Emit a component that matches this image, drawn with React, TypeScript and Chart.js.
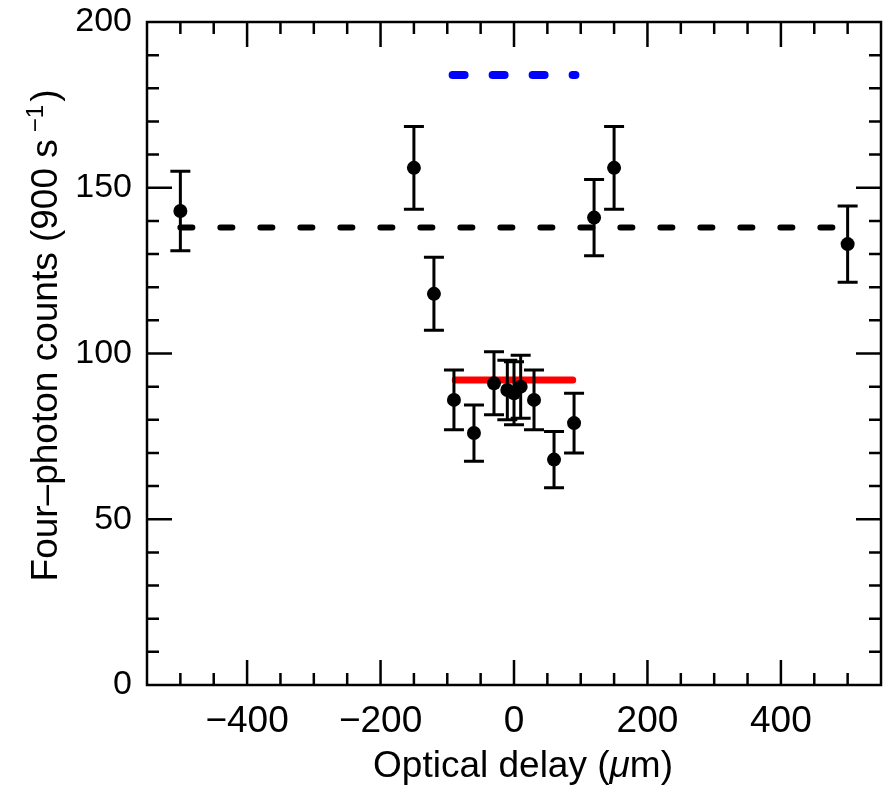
import React, { useEffect, useRef } from 'react';
import { Chart, registerables } from 'chart.js';

Chart.register(...registerables);

// ---- data ----
const delays = [-500, -150, -120, -90, -60, -30, -10, 0, 10, 30, 60, 90, 120, 150, 500];
const counts = [143, 156, 118, 86, 76, 91, 89, 88, 90, 86, 68, 79, 141, 156, 133];
const errors = [12, 12.5, 11, 9, 8.5, 9.5, 9, 9.5, 9.5, 9, 8.5, 9, 11.5, 12.5, 11.5];

const classicalX = [-500, 500];
const classicalY = [138, 138];
const redLineX = [-88, 88];
const redLineY = [92, 92];
const blueLineX = [-92, 92];
const blueLineY = [184, 184];

const xMin = -550;
const xMax = 550;
const yMin = 0;
const yMax = 200;
const xTickValues = [-400, -200, 0, 200, 400];
const yTickValues = [0, 50, 100, 150, 200];
const xMinorStep = 50;
const xMajorStep = 200;
const yMinorStep = 10;
const yMajorStep = 50;

const xTitleMain = 'Optical delay (';
const xTitleMu = '\u03bc';
const xTitleEnd = 'm)';
const yTitleMain = 'Four\u2013photon counts (900 s';
const yTitleSup = '\u22121';
const yTitleEnd = ')';

const FAMILY = "'Liberation Sans', Arial, Helvetica, sans-serif";

const fmt = (v: number) => (v < 0 ? '\u2212' + Math.abs(v) : String(v));

const decorPlugin = {
  id: 'decor',
  beforeDatasetDraw(chart: any, args: any) {
    if (args.index !== 0) return;
    const ctx = chart.ctx;
    const xs = chart.scales.x;
    const ys = chart.scales.y;
    ctx.save();
    ctx.strokeStyle = '#000';
    ctx.lineWidth = 3;
    ctx.lineCap = 'butt';
    delays.forEach((d, i) => {
      const px = xs.getPixelForValue(d);
      const t = ys.getPixelForValue(counts[i] + errors[i]);
      const b = ys.getPixelForValue(counts[i] - errors[i]);
      ctx.beginPath();
      ctx.moveTo(px, t);
      ctx.lineTo(px, b);
      ctx.moveTo(px - 10, t);
      ctx.lineTo(px + 10, t);
      ctx.moveTo(px - 10, b);
      ctx.lineTo(px + 10, b);
      ctx.stroke();
    });
    ctx.restore();
  },
  afterDatasetsDraw(chart: any) {
    const ctx = chart.ctx;
    const xs = chart.scales.x;
    const ys = chart.scales.y;
    const { left, right, top, bottom } = chart.chartArea;
    ctx.save();
    ctx.strokeStyle = '#000';
    ctx.lineWidth = 2.5;
    ctx.lineCap = 'butt';
    ctx.beginPath();
    for (let v = xMin + xMinorStep; v < xMax; v += xMinorStep) {
      const px = xs.getPixelForValue(v);
      const len = v % xMajorStep === 0 ? 25 : 12;
      ctx.moveTo(px, bottom);
      ctx.lineTo(px, bottom - len);
      ctx.moveTo(px, top);
      ctx.lineTo(px, top + len);
    }
    for (let v = yMin + yMinorStep; v < yMax; v += yMinorStep) {
      const py = ys.getPixelForValue(v);
      const len = v % yMajorStep === 0 ? 25 : 12;
      ctx.moveTo(left, py);
      ctx.lineTo(left + len, py);
      ctx.moveTo(right, py);
      ctx.lineTo(right - len, py);
    }
    ctx.stroke();
    ctx.lineJoin = 'miter';
    ctx.strokeRect(left, top, right - left, bottom - top);
    ctx.restore();
  },
  afterDraw(chart: any) {
    const ctx = chart.ctx;
    const { left, right, top, bottom } = chart.chartArea;
    ctx.save();
    ctx.fillStyle = '#000';
    ctx.textBaseline = 'alphabetic';
    ctx.textAlign = 'left';
    // x title
    const nf = `37px ${FAMILY}`;
    const itf = `italic 37px ${FAMILY}`;
    ctx.font = nf;
    const w1 = ctx.measureText(xTitleMain).width;
    const w3 = ctx.measureText(xTitleEnd).width;
    ctx.font = itf;
    const w2 = ctx.measureText(xTitleMu).width;
    const total = w1 + w2 + w3;
    const cx = (left + right) / 2 + 9;
    const by = bottom + 92;
    const x0 = cx - total / 2;
    ctx.font = nf;
    ctx.fillText(xTitleMain, x0, by);
    ctx.font = itf;
    ctx.fillText(xTitleMu, x0 + w1, by);
    ctx.font = nf;
    ctx.fillText(xTitleEnd, x0 + w1 + w2, by);

    // y title
    const supf = `24px ${FAMILY}`;
    ctx.translate(57, (top + bottom) / 2 - 18);
    ctx.rotate(-Math.PI / 2);
    ctx.font = nf;
    const m1 = ctx.measureText(yTitleMain).width;
    const m3 = ctx.measureText(yTitleEnd).width;
    ctx.font = supf;
    const m2 = ctx.measureText(yTitleSup).width;
    const gap = 7;
    const tot = m1 + gap + m2 + 3 + m3;
    const s = -tot / 2;
    ctx.font = nf;
    ctx.fillText(yTitleMain, s, 0);
    ctx.font = supf;
    ctx.fillText(yTitleSup, s + m1 + gap, -14);
    ctx.font = nf;
    ctx.fillText(yTitleEnd, s + m1 + gap + m2 + 3, 0);
    ctx.restore();
  },
};

export default function App() {
  const ref = useRef<HTMLCanvasElement | null>(null);
  useEffect(() => {
    if (!ref.current) return;
    const pts = delays.map((d, i) => ({ x: d, y: counts[i] }));
    const line = (xs: number[], ys: number[]) => xs.map((x, i) => ({ x, y: ys[i] }));
    const chart = new Chart(ref.current, {
      type: 'scatter',
      data: {
        datasets: [
          {
            label: 'data',
            data: pts,
            pointRadius: 7,
            pointBackgroundColor: '#000',
            pointBorderWidth: 0,
            borderColor: '#000',
            showLine: false,
          },
          {
            label: 'red',
            data: line(redLineX, redLineY),
            showLine: true,
            pointRadius: 0,
            borderColor: '#ff0000',
            borderWidth: 7,
            borderCapStyle: 'round',
          },
          {
            label: 'blue',
            data: line(blueLineX, blueLineY),
            showLine: true,
            pointRadius: 0,
            borderColor: '#0000ff',
            borderWidth: 8,
            borderCapStyle: 'round',
            borderDash: [12, 28],
          },
          {
            label: 'classical',
            data: line(classicalX, classicalY),
            showLine: true,
            pointRadius: 0,
            borderColor: '#000',
            borderWidth: 6,
            borderCapStyle: 'round',
            borderDash: [12, 28],
          },
        ],
      },
      options: {
        responsive: false,
        animation: false,
        layout: { padding: { left: 0, right: 8, top: 22, bottom: 0 } },
        plugins: { legend: { display: false }, tooltip: { enabled: false } },
        scales: {
          x: {
            type: 'linear',
            min: xMin,
            max: xMax,
            grid: { display: false, drawTicks: false },
            border: { display: false },
            ticks: {
              autoSkip: false,
              maxRotation: 0,
              padding: 15,
              color: '#000',
              font: { family: FAMILY, size: 37 },
              callback: (v: any) => fmt(Number(v)),
            },
            afterBuildTicks: (s: any) => {
              s.ticks = xTickValues.map((v) => ({ value: v }));
            },
            afterFit: (s: any) => {
              s.height = 114;
              s.paddingLeft = 0;
              s.paddingRight = 0;
            },
          },
          y: {
            type: 'linear',
            min: yMin,
            max: yMax,
            grid: { display: false, drawTicks: false },
            border: { display: false },
            ticks: {
              autoSkip: false,
              padding: 15,
              color: '#000',
              font: { family: FAMILY, size: 34 },
              callback: (v: any) => fmt(Number(v)),
            },
            afterBuildTicks: (s: any) => {
              s.ticks = yTickValues.map((v) => ({ value: v }));
            },
            afterFit: (s: any) => {
              s.width = 147;
              s.paddingTop = 0;
              s.paddingBottom = 0;
            },
          },
        },
      },
      plugins: [decorPlugin],
    } as any);
    return () => chart.destroy();
  }, []);
  return (
    <canvas
      ref={ref}
      width={889}
      height={799}
      style={{ display: 'block', position: 'fixed', left: 0, top: 0, background: '#fff' }}
    />
  );
}
